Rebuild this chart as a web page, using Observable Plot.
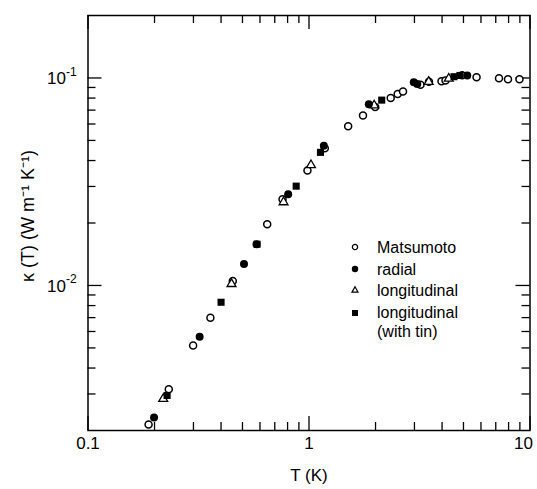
<!DOCTYPE html>
<html>
<head>
<meta charset="utf-8">
<script src="https://cdn.jsdelivr.net/npm/d3@7"></script>
<script src="https://cdn.jsdelivr.net/npm/@observablehq/plot@0.6"></script>
<style>
  html, body { margin: 0; padding: 0; background: #fff; }
  #wrap { position: relative; width: 537px; height: 489px; font-family: "Liberation Sans", Arial, sans-serif; color: #000; }
  #legend { position: absolute; left: 349px; top: 237px; font-size: 16px; }
  #legend .row { display: flex; align-items: flex-start; line-height: 21.7px; }
  #legend .row.two { line-height: 19px; padding-top: 1px; }
  #legend svg { width: 12px; height: 20px; margin-right: 16px; flex: none; }
</style>
</head>
<body>
<div id="wrap"></div>
<script>
// Thermal conductivity κ(T) versus temperature T, four data sets
const tempMatsumoto  = [0.188, 0.232, 0.299, 0.358, 0.452, 0.647, 0.759, 0.984, 1.179, 1.504, 1.755, 1.993, 2.343, 2.519, 2.663, 3.196, 3.49, 3.977, 4.147, 4.93, 5.73, 7.24, 7.95, 8.96];
const kappaMatsumoto = [0.00214, 0.00316, 0.00513, 0.00698, 0.0105, 0.0197, 0.026, 0.0358, 0.0459, 0.0585, 0.0659, 0.0724, 0.0801, 0.0838, 0.0861, 0.0928, 0.0959, 0.0964, 0.0972, 0.103, 0.1008, 0.0997, 0.0986, 0.0986];

const tempRadial  = [0.199, 0.32, 0.508, 0.579, 0.805, 1.167, 1.865, 2.98, 3.09, 5.2];
const kappaRadial = [0.00231, 0.00566, 0.0127, 0.0158, 0.0275, 0.0471, 0.0748, 0.0954, 0.0936, 0.1027];

const tempLongitudinal  = [0.219, 0.446, 0.767, 1.021, 1.972, 3.48, 4.29];
const kappaLongitudinal = [0.00284, 0.01017, 0.0252, 0.038, 0.0738, 0.0958, 0.0993];

const tempTin  = [0.228, 0.40, 0.582, 0.875, 1.127, 2.133, 4.53, 4.82];
const kappaTin = [0.00295, 0.0083, 0.0158, 0.0301, 0.0438, 0.0782, 0.1014, 0.1028];

// Axis ticks and labels
const xMajor = [0.1, 1, 10];
const xMajorLabels = ["0.1", "1", "10"];
const xMinor = [0.2, 0.3, 0.4, 0.5, 0.6, 0.7, 0.8, 0.9, 2, 3, 4, 5, 6, 7, 8, 9];
const yMajor = [0.1, 0.01];
const yMajorExponents = ["-1", "-2"];
const yMinor = [0.003, 0.004, 0.005, 0.006, 0.007, 0.008, 0.009, 0.02, 0.03, 0.04, 0.05, 0.06, 0.07, 0.08, 0.09];

const toPoints = (t, k) => t.map((d, i) => ({T: d, kappa: k[i]}));
const matsumoto = toPoints(tempMatsumoto, kappaMatsumoto);
const radial = toPoints(tempRadial, kappaRadial);
const longitudinal = toPoints(tempLongitudinal, kappaLongitudinal);
const withTin = toPoints(tempTin, kappaTin);

const W = 537, H = 489;
const margin = {top: 15, right: 7.5, bottom: 59, left: 87.5};
const innerW = W - margin.left - margin.right;
const innerH = H - margin.top - margin.bottom;
const font = "Liberation Sans, Arial, sans-serif";

const majorLen = 14, minorLen = 8;
const xLabelData = xMajor.map((v, i) => ({v, label: xMajorLabels[i]}));

const chart = Plot.plot({
  width: W,
  height: H,
  marginTop: margin.top,
  marginRight: margin.right,
  marginBottom: margin.bottom,
  marginLeft: margin.left,
  style: {fontFamily: font, background: "#fff", color: "#000"},
  x: {type: "log", domain: [0.1, 10], axis: null},
  y: {type: "log", domain: [0.002, 0.2], axis: null},
  marks: [
    Plot.frame({stroke: "#000", strokeWidth: 1.5}),
    // inward ticks on all four sides
    Plot.ruleX(xMajor, {x: d => d, insetTop: innerH - majorLen, stroke: "#000", strokeWidth: 1.3}),
    Plot.ruleX(xMinor, {x: d => d, insetTop: innerH - minorLen, stroke: "#000", strokeWidth: 1.3}),
    Plot.ruleX(xMajor, {x: d => d, insetBottom: innerH - majorLen, stroke: "#000", strokeWidth: 1.3}),
    Plot.ruleX(xMinor, {x: d => d, insetBottom: innerH - minorLen, stroke: "#000", strokeWidth: 1.3}),
    Plot.ruleY(yMajor, {y: d => d, insetRight: innerW - majorLen, stroke: "#000", strokeWidth: 1.3}),
    Plot.ruleY(yMinor, {y: d => d, insetRight: innerW - minorLen, stroke: "#000", strokeWidth: 1.3}),
    Plot.ruleY(yMajor, {y: d => d, insetLeft: innerW - majorLen, stroke: "#000", strokeWidth: 1.3}),
    Plot.ruleY(yMinor, {y: d => d, insetLeft: innerW - minorLen, stroke: "#000", strokeWidth: 1.3}),
    // tick labels (the last x label is right-aligned so it stays inside the page)
    Plot.text(xLabelData.slice(0, 2), {x: "v", text: "label", frameAnchor: "bottom", textAnchor: "middle", lineAnchor: "top", dy: 6, fontSize: 17, fill: "#000"}),
    Plot.text(xLabelData.slice(2), {x: "v", text: "label", frameAnchor: "bottom", textAnchor: "end", lineAnchor: "top", dx: 3, dy: 6, fontSize: 17, fill: "#000"}),
    Plot.text(yMajor, {y: d => d, text: () => "10", frameAnchor: "left", textAnchor: "end", dx: -22, dy: 1, fontSize: 17, fill: "#000"}),
    Plot.text(yMajor, {y: d => d, text: (d, i) => yMajorExponents[i], frameAnchor: "left", textAnchor: "start", dx: -22, dy: -6, fontSize: 12, fill: "#000"}),
    // axis titles
    Plot.text(["T (K)"], {frameAnchor: "bottom", textAnchor: "middle", lineAnchor: "top", dy: 38, fontSize: 17, fill: "#000"}),
    Plot.text(["κ (T) (W m⁻¹ K⁻¹)"], {frameAnchor: "left", textAnchor: "middle", dx: -60, dy: -7, rotate: -90, fontSize: 18, fill: "#000"}),
    // data
    Plot.dot(matsumoto, {x: "T", y: "kappa", symbol: "circle", r: 3.5, fill: "#fff", stroke: "#000", strokeWidth: 1.5}),
    Plot.dot(longitudinal, {x: "T", y: "kappa", symbol: "triangle", r: 3.3, fill: "#fff", stroke: "#000", strokeWidth: 1.3}),
    Plot.dot(radial, {x: "T", y: "kappa", symbol: "circle", r: 4, fill: "#000", stroke: "none"}),
    Plot.dot(withTin, {x: "T", y: "kappa", symbol: "square", r: 4, fill: "#000", stroke: "none"})
  ]
});

const wrap = document.getElementById("wrap");
wrap.appendChild(chart);

// Legend placed inside the plot area
const legend = document.createElement("div");
legend.id = "legend";
legend.innerHTML = `
  <div class="row"><svg viewBox="-6 -10 12 20"><circle r="2.6" fill="#fff" stroke="#000" stroke-width="1.3"/></svg><span>Matsumoto</span></div>
  <div class="row"><svg viewBox="-6 -10 12 20"><circle r="3.2" fill="#000"/></svg><span>radial</span></div>
  <div class="row"><svg viewBox="-6 -10 12 20"><path d="M0,-3.2L3,2.2L-3,2.2Z" fill="#fff" stroke="#000" stroke-width="1.2"/></svg><span>longitudinal</span></div>
  <div class="row two"><svg viewBox="-6 -10 12 20"><rect x="-3" y="-3" width="6" height="6" fill="#000"/></svg><span>longitudinal<br>(with tin)</span></div>
`;
wrap.appendChild(legend);
</script>
</body>
</html>
